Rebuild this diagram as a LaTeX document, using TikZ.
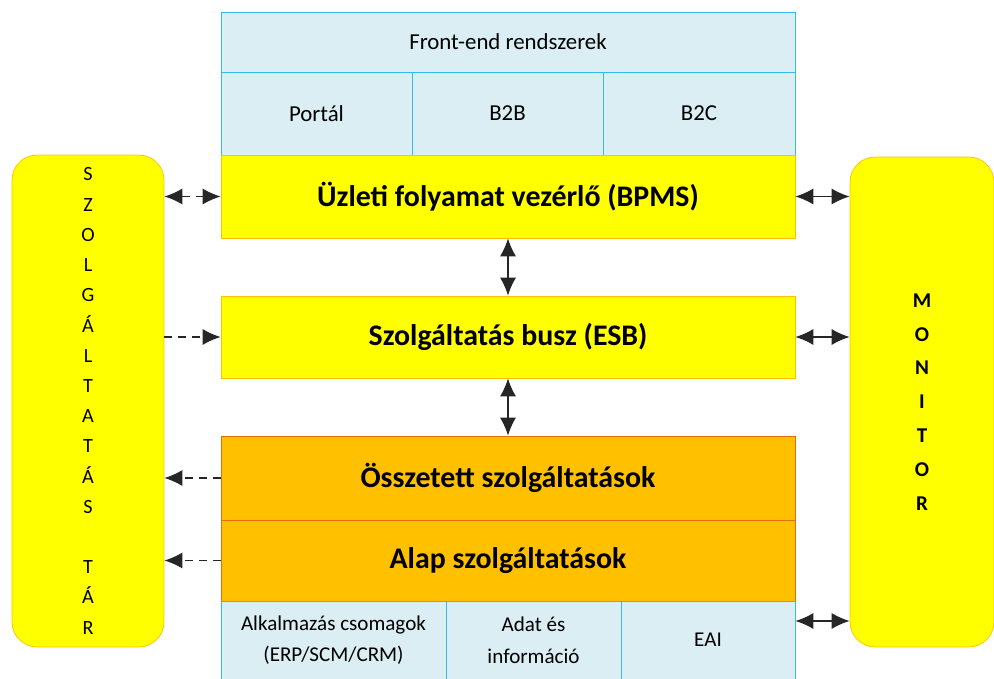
\documentclass[tikz,border=0pt]{standalone}
\usepackage{fontspec}
\setmainfont{Carlito}
\usetikzlibrary{arrows.meta}
\definecolor{sarga}{HTML}{FFFF00}
\definecolor{sargakeret}{HTML}{FFC000}
\definecolor{narancs}{HTML}{FFC000}
\definecolor{narancskeret}{HTML}{E46C0A}
\definecolor{kek}{HTML}{DAEEF3}
\definecolor{kekkeret}{HTML}{33BBEE}
\tikzset{
  kekdoboz/.style={draw=kekkeret, fill=kek, inner sep=0pt, align=center, font=\fontsize{13}{15}\selectfont},
  sargadoboz/.style={draw=sargakeret, fill=sarga, inner sep=0pt, font=\fontsize{17}{20}\selectfont\bfseries},
  narancsdoboz/.style={draw=narancskeret, fill=narancs, inner sep=0pt, font=\fontsize{17}{20}\selectfont\bfseries},
  oldal/.style={draw=sargakeret, fill=sarga, rounded corners=0.5cm, inner sep=0pt, align=center},
  nyil/.style={line width=0.8pt, black!85, {Latex[length=3.6mm,width=3.2mm]}-{Latex[length=3.6mm,width=3.2mm]}},
  szaggatott/.style={line width=0.8pt, black!85, dashed, dash pattern=on 1.6mm off 1.2mm}
}
\begin{document}
\begin{tikzpicture}[x=0.02cm,y=-0.02cm,>={Latex[length=3.6mm,width=3.2mm]}]
  \useasboundingbox (0,0) rectangle (994,679);
  % felső rész
  \node[kekdoboz, minimum width=11.48cm, minimum height=1.2cm] (fe) at (508,42) {Front-end rendszerek};
  \node[kekdoboz, minimum width=3.82cm, minimum height=1.66cm] (portal) at (316.5,113.5) {Portál};
  \node[kekdoboz, minimum width=3.82cm, minimum height=1.66cm] (btob) at (507.5,113.5) {B2B};
  \node[kekdoboz, minimum width=3.84cm, minimum height=1.66cm] (btoc) at (699,113.5) {B2C};

  % középső blokkok
  \node[sargadoboz, minimum width=11.48cm, minimum height=1.66cm] (bpms) at (508,196.5) {Üzleti folyamat vezérlő (BPMS)};
  \node[sargadoboz, minimum width=11.48cm, minimum height=1.64cm] (esb) at (508,337) {Szolgáltatás busz (ESB)};
  \node[narancsdoboz, minimum width=11.48cm, minimum height=1.68cm] (ossz) at (508,478) {Összetett szolgáltatások};
  \node[narancsdoboz, minimum width=11.48cm, minimum height=1.62cm] (alap) at (508,560.5) {Alap szolgáltatások};

  % alsó sor
  \node[kekdoboz, font=\fontsize{12}{18}\selectfont, minimum width=4.5cm, minimum height=1.56cm] (alk) at (333.5,640) {Alkalmazás csomagok\\(ERP/SCM/CRM)};
  \node[kekdoboz, font=\fontsize{12}{18}\selectfont, minimum width=3.5cm, minimum height=1.56cm] (adat) at (533.5,640) {Adat és\\információ};
  \node[kekdoboz, font=\fontsize{12}{18}\selectfont, minimum width=3.48cm, minimum height=1.56cm] (eai) at (708,640) {EAI};
  \coordinate (eaiki) at ([yshift=0.38cm]eai.east);

  % két oldalsó doboz
  \node[oldal, font=\fontsize{11.5}{17.2}\selectfont, minimum width=3.04cm, minimum height=9.84cm] (tar) at (88,401)
    {S\\Z\\O\\L\\G\\Á\\L\\T\\A\\T\\Á\\S\\[17.2pt]T\\Á\\R};
  \node[oldal, font=\fontsize{12}{19.3}\selectfont\bfseries, minimum width=2.88cm, minimum height=9.8cm] (monitor) at (922,402)
    {M\\O\\N\\I\\T\\O\\R};

  % nyilak
  \draw[szaggatott, <->] (tar.east |- bpms) -- (bpms.west);
  \draw[szaggatott, ->] (tar.east |- esb) -- (esb.west);
  \draw[szaggatott, ->] (ossz.west) -- (tar.east |- ossz);
  \draw[szaggatott, ->] (alap.west) -- (tar.east |- alap);
  \draw[nyil] (bpms.east) -- (monitor.west |- bpms);
  \draw[nyil] (esb.east) -- (monitor.west |- esb);
  \draw[nyil] (eaiki) -- (monitor.west |- eaiki);
  \draw[nyil] (bpms.south) -- (esb.north);
  \draw[nyil] (esb.south) -- (ossz.north);
\end{tikzpicture}
\end{document}
